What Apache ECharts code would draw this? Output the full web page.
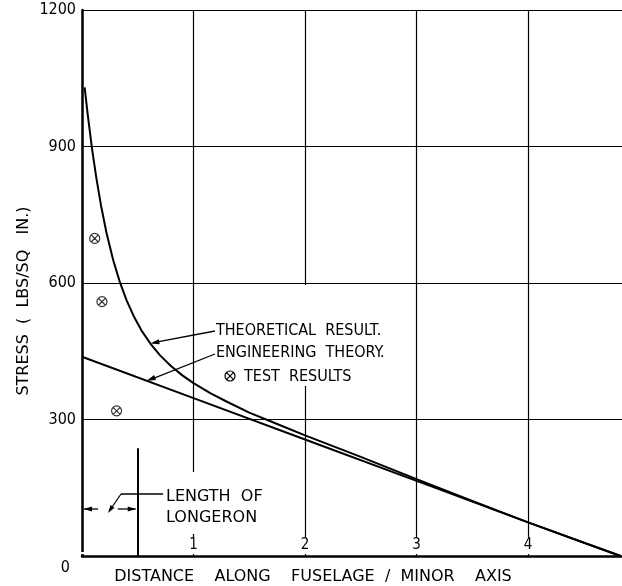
<!DOCTYPE html>
<html>
<head>
<meta charset="utf-8">
<script src="https://cdn.jsdelivr.net/npm/echarts@6/dist/echarts.min.js"></script>
<style>
  html, body { margin: 0; padding: 0; background: #fff; }
  #chart { width: 622px; height: 586px; }
</style>
</head>
<body>
<div id="chart"></div>
<script>
// Stress along the fuselage, plotted against distance / minor axis
const theoretical = [
  [0.024, 1030], [0.05, 973], [0.09, 895], [0.13, 829], [0.17, 771], [0.22, 710],
  [0.28, 650], [0.338, 603], [0.4, 562], [0.47, 524], [0.54, 493], [0.613, 467],
  [0.7, 441], [0.8, 417], [0.9, 397], [1.0, 380], [1.15, 358], [1.3, 339],
  [1.5, 315], [1.75, 290], [2.0, 265], [2.5, 218], [3.0, 169], [3.5, 121],
  [4.0, 74], [4.5, 29], [4.83, 0]
];
const engineering = [[0, 438], [1, 347], [2, 256], [3, 165], [4, 74], [4.83, 0]];
const testResults = [[0.114, 698], [0.179, 559], [0.31, 319]];
const longeronLength = 0.5;
const longeronMarkTop = 237;
const yTicks = [0, 300, 600, 900, 1200];
const xTicks = [1, 2, 3, 4];

const INK = '#000';
const FONT = 'DejaVu Sans Condensed, DejaVu Sans, sans-serif';
const WIDE = 'DejaVu Sans, sans-serif';

const chart = echarts.init(document.getElementById('chart'), null, { renderer: 'canvas' });

// circle with a cross, drawn as a stroked path
const crossCircle = 'path://M0,-5A5,5 0 1,1 0,5A5,5 0 1,1 0,-5ZM-3.3,-3.3L3.3,3.3M3.3,-3.3L-3.3,3.3';

chart.setOption({
  backgroundColor: '#fff',
  animation: false,
  grid: { left: 82, right: -2, top: 10, bottom: 30, outerBoundsMode: 'none', containLabel: false },
  xAxis: {
    type: 'value',
    min: 0,
    max: 4.86,
    interval: 1,
    name: 'DISTANCE    ALONG    FUSELAGE  /  MINOR    AXIS',
    nameLocation: 'middle',
    nameGap: 13,
    nameTextStyle: { color: INK, fontFamily: WIDE, fontSize: 16, padding: [0, 80, 0, 0] },
    axisLine: { show: true, lineStyle: { color: INK, width: 2.5 } },
    axisTick: { show: false },
    axisLabel: {
      inside: true,
      margin: 2,
      color: INK,
      fontFamily: FONT,
      fontSize: 15,
      backgroundColor: '#fff',
      padding: [1, 2, 1, 2],
      formatter: v => (xTicks.indexOf(v) >= 0 ? String(v) : '')
    },
    splitLine: { show: true, lineStyle: { color: INK, width: 1.2 } }
  },
  yAxis: {
    type: 'value',
    min: 0,
    max: 1200,
    interval: 300,
    axisLine: { show: true, lineStyle: { color: INK, width: 2.5 } },
    axisTick: { show: false },
    axisLabel: {
      margin: 6,
      color: INK,
      fontFamily: FONT,
      fontSize: 16,
      formatter: v => (yTicks.indexOf(v) < 0 ? '' : (v === 0 ? '{z|0}' : String(v))),
      rich: { z: { fontFamily: FONT, fontSize: 16, color: INK, padding: [24, 6, 0, 0] } }
    },
    splitLine: { show: true, lineStyle: { color: INK, width: 1.2 } }
  },
  series: [
    {
      name: 'THEORETICAL RESULT.',
      type: 'line',
      data: theoretical,
      smooth: false,
      showSymbol: false,
      lineStyle: { color: INK, width: 2 },
      z: 5
    },
    {
      name: 'ENGINEERING THEORY.',
      type: 'line',
      data: engineering,
      showSymbol: false,
      lineStyle: { color: INK, width: 2 },
      z: 5,
      markLine: {
        silent: true,
        symbol: 'none',
        label: { show: false },
        lineStyle: { color: INK, width: 2, type: 'solid' },
        data: [[{ coord: [longeronLength, 0] }, { coord: [longeronLength, longeronMarkTop] }]]
      }
    },
    {
      name: 'TEST RESULTS',
      type: 'scatter',
      data: testResults,
      symbol: crossCircle,
      symbolSize: 10,
      itemStyle: { color: 'rgba(0,0,0,0)', borderColor: INK, borderWidth: 1.2 },
      z: 6
    }
  ]
});

// annotation helpers
function arrowHead(tip, from, len, half) {
  const dx = tip[0] - from[0], dy = tip[1] - from[1];
  const d = Math.hypot(dx, dy) || 1;
  const ux = dx / d, uy = dy / d;
  const bx = tip[0] - ux * len, by = tip[1] - uy * len;
  return {
    type: 'polygon', z: 20,
    shape: { points: [tip, [bx - uy * half, by + ux * half], [bx + uy * half, by - ux * half]] },
    style: { fill: INK }
  };
}
function seg(a, b, w) {
  return { type: 'line', z: 20, shape: { x1: a[0], y1: a[1], x2: b[0], y2: b[1] }, style: { stroke: INK, lineWidth: w || 1.3 } };
}
function label(text, x, y, size, family) {
  return {
    type: 'text', z: 20, x: x, y: y,
    style: { text: text, fill: INK, font: (size || 16) + 'px ' + (family || FONT), textVerticalAlign: 'middle' }
  };
}

const px = p => chart.convertToPixel({ gridIndex: 0 }, p);
const theoTip = px([0.613, 467]);
const engTip = px([0.58, 385]);
const origin = px([0, 0]);
const longeronFoot = px([longeronLength, 0]);
const dimY = origin[1] - 47;

const elements = [
  // vertical axis title
  {
    type: 'text', z: 20, x: 24, y: 301, rotation: Math.PI / 2,
    style: { text: 'STRESS  (  LBS/SQ   IN.)', fill: INK, font: '16px ' + WIDE, textAlign: 'center', textVerticalAlign: 'middle' }
  },

  // clear space behind the annotation blocks
  { type: 'rect', z: 1, shape: { x: 212, y: 285, width: 180, height: 101 }, style: { fill: '#fff' } },
  { type: 'rect', z: 1, shape: { x: 158, y: 472, width: 116, height: 62 }, style: { fill: '#fff' } },

  label('THEORETICAL  RESULT.', 216, 331),
  label('ENGINEERING  THEORY.', 216, 353),
  label('TEST  RESULTS', 244, 377),
  { type: 'group', z: 20, x: 230, y: 376, children: [
    { type: 'circle', z: 20, shape: { cx: 0, cy: 0, r: 5 }, style: { fill: 'none', stroke: INK, lineWidth: 1.2 } },
    seg([-3.3, -3.3], [3.3, 3.3], 1.2), seg([3.3, -3.3], [-3.3, 3.3], 1.2)
  ] },
  seg([215, 331], [theoTip[0] + 3, theoTip[1] - 1]),
  arrowHead(theoTip, [215, 331], 9, 2.6),
  seg([215, 354], [engTip[0] + 3, engTip[1] - 1]),
  arrowHead(engTip, [215, 354], 9, 2.6),

  label('LENGTH  OF', 166, 497, 16, WIDE),
  label('LONGERON', 166, 518, 16, WIDE),
  seg([163, 494], [121, 494]),
  seg([121, 494], [110, 510]),
  arrowHead([108, 513], [121, 494], 8, 2.4),

  // longeron dimension
  seg([origin[0] + 2, dimY], [origin[0] + 16, dimY]),
  arrowHead([origin[0] + 2, dimY], [origin[0] + 16, dimY], 8, 2.4),
  seg([longeronFoot[0] - 20, dimY], [longeronFoot[0] - 2, dimY]),
  arrowHead([longeronFoot[0] - 2, dimY], [longeronFoot[0] - 20, dimY], 8, 2.4)
];

chart.setOption({ graphic: { elements: elements } });
</script>
</body>
</html>
